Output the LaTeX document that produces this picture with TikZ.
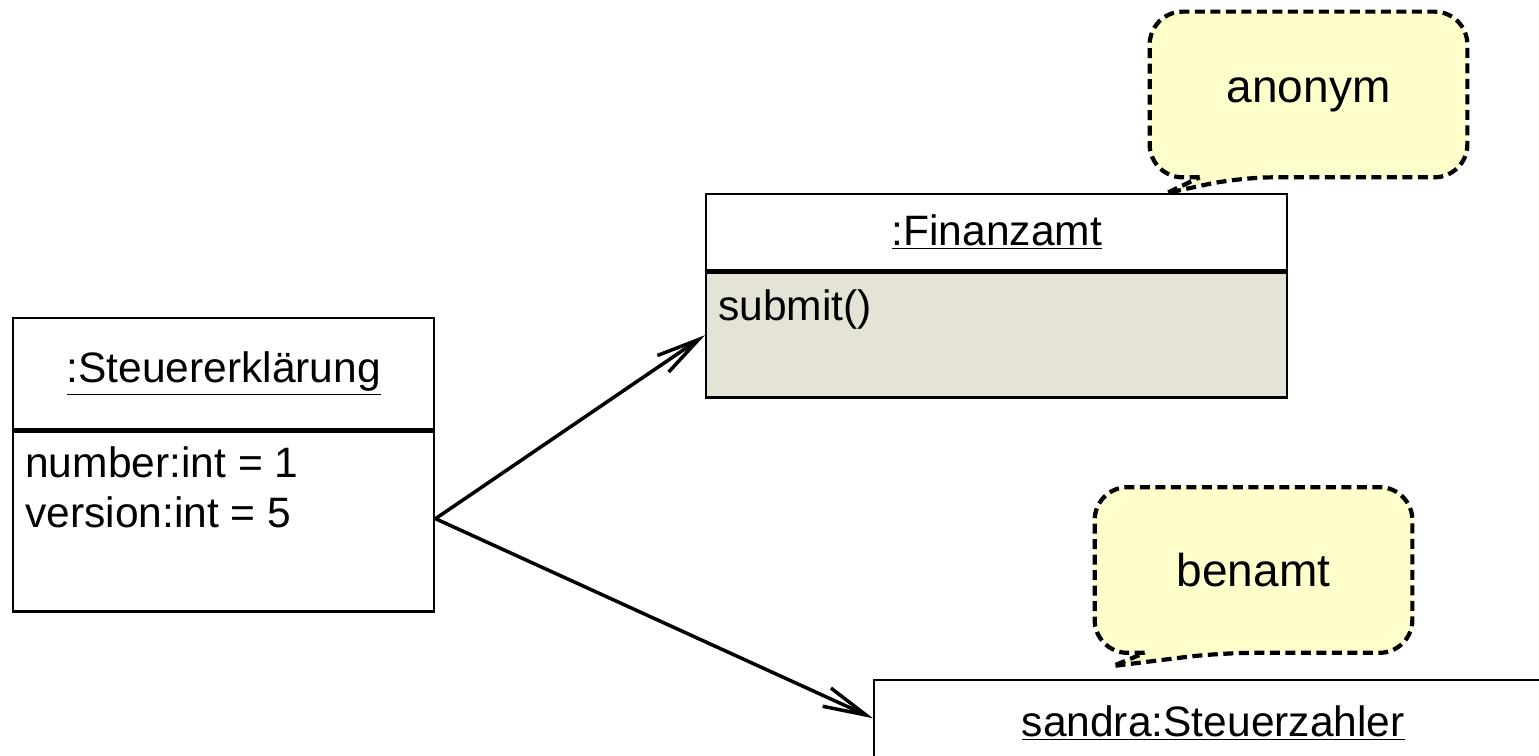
\documentclass[tikz,border=0pt]{standalone}
\usepackage{fontspec}
\setmainfont{Liberation Sans}
\usetikzlibrary{positioning,arrows.meta,backgrounds}
\definecolor{opfill}{RGB}{229,227,214}
\definecolor{notefill}{RGB}{255,255,204}
\newcommand\objfont{\fontsize{24.2pt}{29pt}\selectfont}
\newcommand\notefont{\fontsize{26.2pt}{31pt}\selectfont}
\tikzset{
  compart/.style={draw, line width=1.4pt, inner sep=0pt, anchor=north west, font=\objfont},
  attr/.style={anchor=base west, inner sep=0pt, font=\objfont},
  note/.style={minimum width=6.34cm, minimum height=3.3cm, inner sep=0pt, font=\notefont},
  notebox/.style={draw, fill=notefill, line width=2.4pt, dash pattern=on 0.2cm off 0.11cm},
  link/.style={line width=2pt, -{Straight Barb[length=0.86cm, width=0.4cm]}}
}
\begin{document}
\begin{tikzpicture}
    \useasboundingbox (0,0) rectangle (30.78,15.1);
    \clip (0,0) rectangle (30.78,15.1);
    % objects
    \node[compart, minimum width=8.42cm, minimum height=2.22cm] (erkltitle) at (0.24,8.76) {\underline{:Steuererklärung}};
    \node[compart, minimum width=8.42cm, minimum height=3.6cm, below=0pt of erkltitle] (erklbody) {};
    \node[attr] (attrnum) at ([shift={(0.26,-0.94)}]erklbody.north west) {number:int = 1};
    \node[attr] (attrver) at ([yshift=-1cm]attrnum.base west) {version:int = 5};

    \node[compart, minimum width=11.62cm, minimum height=1.52cm] (finanztitle) at (14.1,11.24) {\underline{:Finanzamt}};
    \node[compart, fill=opfill, minimum width=11.62cm, minimum height=2.5cm, below=0pt of finanztitle] (finanzbody) {};
    \node[attr] (finanzop) at ([shift={(0.26,-0.98)}]finanzbody.north west) {submit()};

    \node[compart, minimum width=13.56cm, minimum height=1.7cm] (sandratitle) at (17.46,1.52) {\underline{sandra:Steuerzahler}};
    \node[compart, minimum width=13.56cm, minimum height=2.5cm, below=0pt of sandratitle] (sandrabody) {};

    % links
    \coordinate (src) at ([yshift=0.06cm]erklbody.east);
    \draw[link] (src) -- (finanzbody.west);
    \draw[link] (src) -- ([yshift=0.09cm]sandratitle.west);

    % notes
    \node[note] (anonym) at (26.17,13.21) {anonym};
    \node[note] (benamt) at (25.07,3.7) {benamt};
    \coordinate (tipa) at ([xshift=9.24cm]finanztitle.north west);
    \coordinate (tipb) at ([shift={(4.8,0.26)}]sandratitle.north west);
    \begin{scope}[on background layer]
    \draw[notebox] ([xshift=1cm]anonym.south west) [rounded corners=0.66cm] -- (anonym.south west)
        -- (anonym.north west) -- (anonym.north east) -- (anonym.south east)
        -- ([xshift=1.8cm]anonym.south west) [sharp corners] -- (tipa) -- cycle;
    \draw[notebox] ([xshift=1cm]benamt.south west) [rounded corners=0.66cm] -- (benamt.south west)
        -- (benamt.north west) -- (benamt.north east) -- (benamt.south east)
        -- ([xshift=2.5cm]benamt.south west) [sharp corners] -- (tipb) -- cycle;
    \end{scope}
\end{tikzpicture}
\end{document}
